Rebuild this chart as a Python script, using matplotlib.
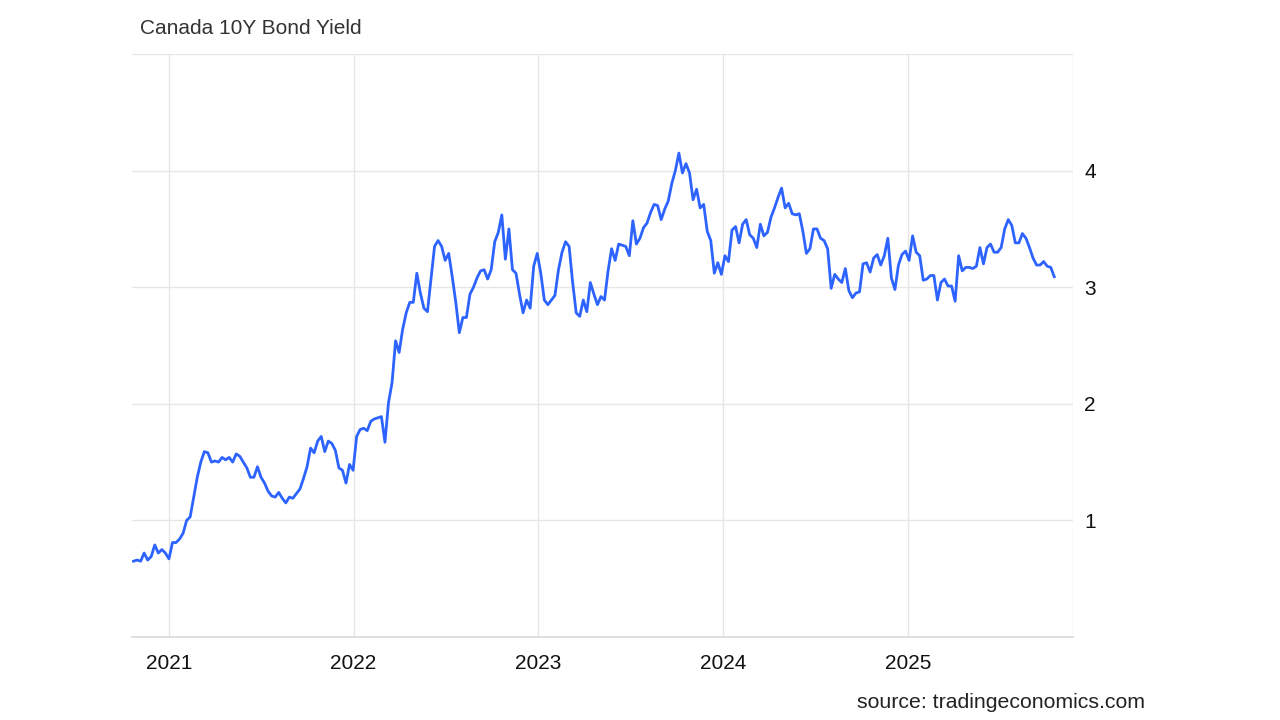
import matplotlib
matplotlib.use("Agg")
import matplotlib.pyplot as plt
import pandas as pd

# ---- data (weekly readings of Canada 10Y yield, %) ----
title = "Canada 10Y Bond Yield"
source = "source: tradingeconomics.com"
last_date = "2025-10-17"
yields = [
    0.65, 0.66, 0.65, 0.72, 0.66, 0.69, 0.79, 0.72, 0.75, 0.72, 0.67, 0.81, 0.81, 0.84, 0.89,
    1.00, 1.03, 1.20, 1.37, 1.50, 1.59, 1.58, 1.50, 1.51, 1.50, 1.54, 1.52, 1.54, 1.50, 1.57,
    1.55, 1.50, 1.45, 1.37, 1.37, 1.46, 1.37, 1.32, 1.25, 1.21, 1.20, 1.24, 1.19, 1.15, 1.20,
    1.19, 1.23, 1.27, 1.36, 1.46, 1.62, 1.58, 1.68, 1.72, 1.59, 1.68, 1.66, 1.60, 1.45, 1.43,
    1.32, 1.48, 1.43, 1.72, 1.78, 1.79, 1.77, 1.85, 1.87, 1.88, 1.89, 1.67, 2.01, 2.18, 2.54,
    2.44, 2.64, 2.78, 2.87, 2.87, 3.12, 2.95, 2.82, 2.79, 3.07, 3.35, 3.40, 3.35, 3.23, 3.29,
    3.09, 2.87, 2.61, 2.74, 2.74, 2.94, 3.00, 3.08, 3.14, 3.15, 3.07, 3.15, 3.39, 3.47, 3.62,
    3.24, 3.50, 3.15, 3.12, 2.94, 2.78, 2.89, 2.82, 3.18, 3.29, 3.12, 2.89, 2.85, 2.89, 2.93,
    3.15, 3.30, 3.39, 3.35, 3.04, 2.78, 2.75, 2.89, 2.79, 3.04, 2.94, 2.85, 2.92, 2.89, 3.14,
    3.33, 3.23, 3.37, 3.36, 3.35, 3.27, 3.57, 3.37, 3.42, 3.51, 3.55, 3.64, 3.71, 3.70, 3.58,
    3.67, 3.74, 3.89, 4.00, 4.15, 3.98, 4.06, 3.98, 3.75, 3.84, 3.68, 3.71, 3.48, 3.40, 3.12,
    3.21, 3.11, 3.27, 3.22, 3.49, 3.52, 3.38, 3.54, 3.58, 3.45, 3.42, 3.34, 3.54, 3.44, 3.47,
    3.60, 3.68, 3.77, 3.85, 3.68, 3.72, 3.63, 3.62, 3.63, 3.48, 3.29, 3.33, 3.50, 3.50, 3.42,
    3.40, 3.33, 2.99, 3.11, 3.07, 3.04, 3.16, 2.97, 2.91, 2.95, 2.96, 3.20, 3.21, 3.13, 3.25,
    3.28, 3.19, 3.27, 3.42, 3.08, 2.98, 3.19, 3.28, 3.31, 3.23, 3.44, 3.30, 3.27, 3.06, 3.07,
    3.10, 3.10, 2.89, 3.04, 3.07, 3.01, 3.01, 2.88, 3.27, 3.14, 3.17, 3.17, 3.16, 3.18, 3.34,
    3.20, 3.34, 3.37, 3.30, 3.30, 3.34, 3.50, 3.58, 3.53, 3.38, 3.38, 3.46, 3.42, 3.34, 3.25,
    3.19, 3.19, 3.22, 3.18, 3.17, 3.09,
]
year_ticks = ["2021", "2022", "2023", "2024", "2025"]
y_ticks = [1, 2, 3, 4]
x_start, x_end = "2020-10-20", "2025-11-23"
y_min, y_max = 0, 5

dates = pd.date_range(end=last_date, periods=len(yields), freq="W-FRI")

plt.rcParams["font.family"] = ["Liberation Sans", "DejaVu Sans"]

fig = plt.figure(figsize=(12.8, 7.2), dpi=100)
ax = fig.add_axes([132 / 1280, 1 - 637 / 720, (1073 - 132) / 1280, (637 - 54) / 720])

ax.plot(dates, yields, color="#2d63ff", linewidth=2.0, solid_joinstyle="round", zorder=3)

ax.set_xlim(pd.Timestamp(x_start), pd.Timestamp(x_end))
ax.set_ylim(y_min, y_max)

# grid
grid_c = "#e6e6e6"
for yv in y_ticks + [y_max]:
    ax.axhline(yv, color=grid_c, linewidth=1.0, zorder=1)
for yr in year_ticks:
    ax.axvline(pd.Timestamp(f"{yr}-01-01"), color=grid_c, linewidth=1.0, zorder=1)
ax.axvline(pd.Timestamp(x_end), color=grid_c, linewidth=1.0, zorder=1)

for s in ["top", "left", "right"]:
    ax.spines[s].set_visible(False)
ax.spines["bottom"].set_color("#d9d9d9")
ax.spines["bottom"].set_linewidth(1.2)

ax.set_xticks([pd.Timestamp(f"{yr}-01-01") for yr in year_ticks])
ax.set_xticklabels(year_ticks)
ax.yaxis.tick_right()
ax.set_yticks(y_ticks)
ax.set_yticklabels([str(v) for v in y_ticks])
ax.tick_params(axis="x", length=0, pad=12, labelsize=15, labelcolor="#111111")
ax.tick_params(axis="y", length=0, pad=8, labelsize=15, labelcolor="#111111")

fig.text(140 / 1280, 1 - 29 / 720, title, ha="left", va="center", fontsize=15, color="#333333")
fig.text(1145 / 1280, 1 - 703 / 720, source, ha="right", va="center", fontsize=15.3, color="#222222")

fig.savefig("out.png", dpi=100, facecolor="white")
